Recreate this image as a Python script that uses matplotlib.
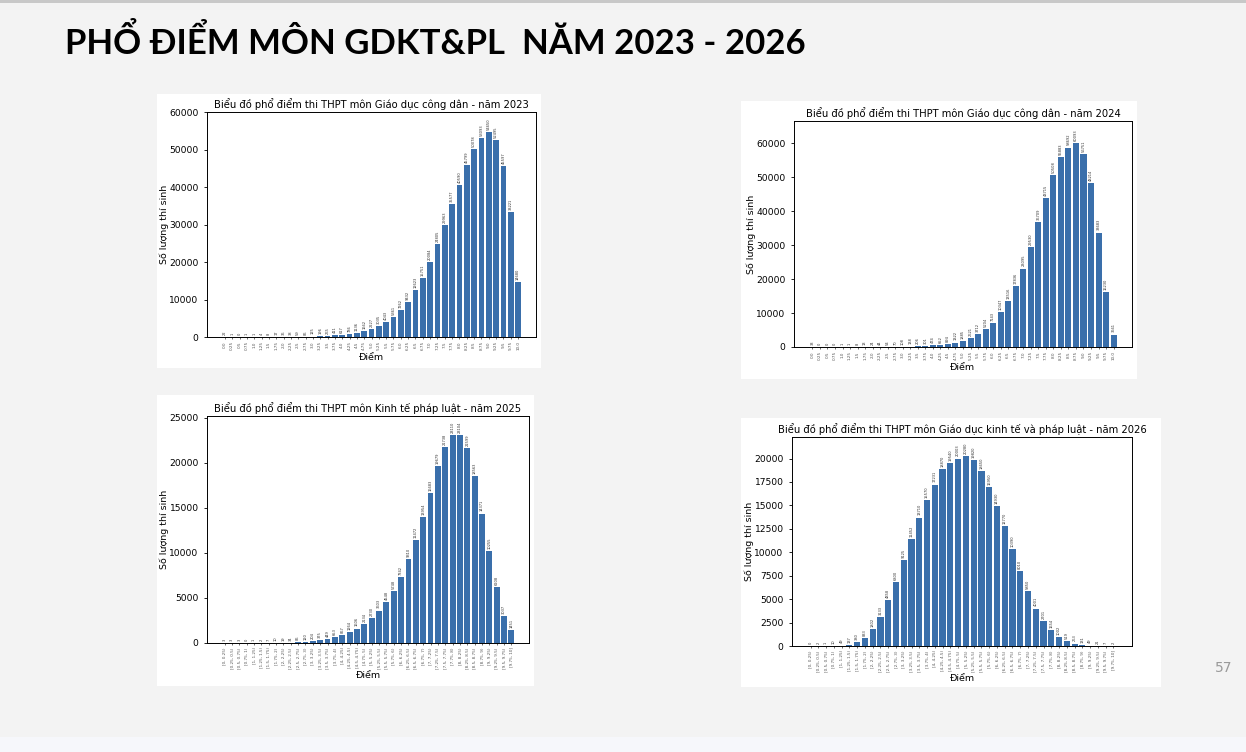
import numpy as np
import matplotlib.pyplot as plt
from matplotlib.patches import Rectangle

# Kích thước ảnh (pixel)
W, H = 1246, 752

# Điểm 0.0 -> 10.0, bước 0.25 (năm 2023, 2024)
diem = [str(round(i * 0.25, 2)) for i in range(41)]

# Khoảng điểm (năm 2025, 2026)
moc = [0, 0.25, 0.5, 0.75, 1, 1.25, 1.5, 1.75, 2, 2.25, 2.5, 2.75, 3, 3.25, 3.5, 3.75,
       4, 4.25, 4.5, 4.75, 5, 5.25, 5.5, 5.75, 6, 6.25, 6.5, 6.75, 7, 7.25, 7.5, 7.75,
       8, 8.25, 8.5, 8.75, 9, 9.25, 9.5, 9.75, 10]
khoang = [f"[{moc[i]}, {moc[i + 1]})" for i in range(39)] + ["[9.75, 10]"]

so_luong_2023 = [22, 1, 0, 1, 1, 4, 8, 17, 36, 38, 59, 86, 125, 196, 265, 411, 617, 786,
                 1136, 1662, 2227, 3035, 4043, 5361, 7262, 9432, 12623, 15751, 20084,
                 24805, 29963, 35577, 40590, 45799, 50078, 53093, 54650, 52495, 45597,
                 33221, 14680]

so_luong_2024 = [33, 0, 0, 0, 1, 1, 8, 13, 24, 44, 54, 70, 108, 138, 206, 301, 474, 652,
                 894, 1322, 1885, 2621, 3712, 5204, 7143, 10347, 13516, 17836, 23095,
                 29530, 36709, 43715, 50508, 55883, 58692, 60093, 56751, 48214, 33683,
                 16230, 3661]

so_luong_2025 = [3, 3, 3, 0, 1, 2, 7, 10, 19, 34, 86, 120, 204, 375, 449, 653, 867, 1264,
                 1606, 2134, 2730, 3603, 4548, 5748, 7342, 9310, 11472, 13954, 16683,
                 19679, 21738, 23110, 23104, 21599, 18563, 14371, 10255, 6208, 3037, 1451]

so_luong_2026 = [0, 2, 1, 10, 49, 137, 380, 833, 1802, 3133, 4858, 6800, 9125, 11452,
                 13710, 15570, 17231, 18870, 19540, 20003, 20280, 19820, 18650, 16950,
                 14930, 12770, 10390, 8010, 5850, 4001, 2701, 1654, 1002, 519, 263, 131,
                 49, 21, 7, 2]

tieu_de = [
    "Biểu đồ phổ điểm thi THPT môn Giáo dục công dân - năm 2023",
    "Biểu đồ phổ điểm thi THPT môn Giáo dục công dân - năm 2024",
    "Biểu đồ phổ điểm thi THPT môn Kinh tế pháp luật - năm 2025",
    "Biểu đồ phổ điểm thi THPT môn Giáo dục kinh tế và pháp luật - năm 2026",
]

MAU_COT = '#3a6fab'


def hop(x0, y0, x1, y1):
    """Đổi toạ độ pixel (gốc trên trái) sang toạ độ figure"""
    return [x0 / W, 1 - y1 / H, (x1 - x0) / W, (y1 - y0) / H]


def ve_bieu_do(fig, khung, truc, nhan, gia_tri, tieu, ymax, yticks):
    # Nền trắng của ảnh chụp biểu đồ
    x0, y0, x1, y1 = khung
    fig.add_artist(Rectangle((x0 / W, 1 - y1 / H), (x1 - x0) / W, (y1 - y0) / H,
                             transform=fig.transFigure, facecolor='white',
                             edgecolor='none', zorder=0))
    ax = fig.add_axes(hop(*truc))
    x = np.arange(len(gia_tri))
    cot = ax.bar(x, gia_tri, width=0.8, color=MAU_COT)
    ax.bar_label(cot, labels=[str(v) for v in gia_tri], rotation=90, fontsize=2.6,
                 padding=1.5, color='#333333')
    ax.set_xticks(x)
    ax.set_xticklabels(nhan, rotation=90, fontsize=3.0, color='#555555')
    ax.set_ylim(0, ymax)
    ax.set_yticks(yticks)
    ax.tick_params(axis='y', labelsize=6.6, length=2.5, width=0.6)
    ax.tick_params(axis='x', length=1.5, width=0.4, pad=1.5)
    ax.set_title(tieu, fontsize=7.2, pad=3)
    ax.set_xlabel('Điểm', fontsize=6.8, labelpad=2)
    ax.set_ylabel('Số lượng thí sinh', fontsize=6.8, labelpad=0.5)
    for s in ax.spines.values():
        s.set_linewidth(0.7)
    return ax


fig = plt.figure(figsize=(W / 100, H / 100), dpi=100, facecolor='#f3f3f3')

# Viền trên và dải dưới của slide
fig.add_artist(Rectangle((0, 1 - 3 / H), 1, 3 / H, transform=fig.transFigure,
                         facecolor='#c8c8c8', edgecolor='none', zorder=0))
fig.add_artist(Rectangle((0, 0), 1, 15 / H, transform=fig.transFigure,
                         facecolor='#f6f7fb', edgecolor='none', zorder=0))

fig.text(65 / W, 1 - 42 / H, 'PHỔ ĐIỂM MÔN GDKT&PL  NĂM 2023 - 2026',
         fontsize=25, fontweight='bold', va='center', ha='left',
         family=['Lato', 'DejaVu Sans'], color='black')

ve_bieu_do(fig, (157, 94, 541, 368), (207, 112, 536, 337), diem, so_luong_2023,
           tieu_de[0], 60000, range(0, 60001, 10000))
ve_bieu_do(fig, (741, 101, 1137, 379), (794, 121, 1132, 347), diem, so_luong_2024,
           tieu_de[1], 66500, range(0, 60001, 10000))
ve_bieu_do(fig, (157, 395, 534, 686), (207, 416, 529, 643), khoang, so_luong_2025,
           tieu_de[2], 25200, range(0, 25001, 5000))
ve_bieu_do(fig, (741, 418, 1161, 687), (792, 437, 1132, 646), khoang, so_luong_2026,
           tieu_de[3], 22300, range(0, 20001, 2500))

# Số trang
fig.text(1224 / W, 1 - 668 / H, '57', fontsize=10, color='#9a9a9a',
         ha='center', va='center')

fig.savefig('out.png', dpi=100, facecolor=fig.get_facecolor())
